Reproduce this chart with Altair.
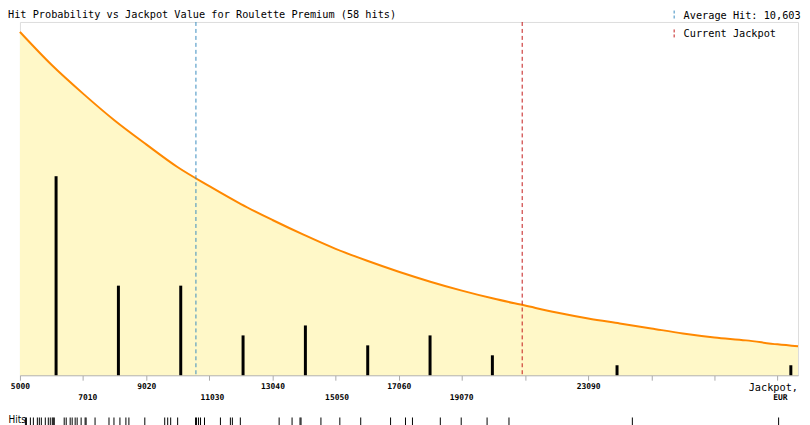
import altair as alt
import pandas as pd

# ---- data ----
curve_jackpot = [5000, 6005, 7010, 8015, 9020, 10025, 11030, 12035, 13040, 14045,
                 15050, 16055, 17060, 18065, 19070, 20075, 21080, 22085, 23090,
                 24095, 25100, 26105, 27110, 28115, 29120, 29771]
curve_level = [34.5, 31.2, 28.3, 25.6, 23.2, 20.9, 19.0, 17.2, 15.6, 14.1,
               12.7, 11.5, 10.4, 9.4, 8.5, 7.7, 7.0, 6.3, 5.7,
               5.2, 4.7, 4.2, 3.8, 3.5, 3.1, 2.9]

bar_jackpot = [6005, 8015, 10025, 12035, 14045, 16055, 18065, 20075, 24095, 29700]
bar_hits = [20, 9, 9, 4, 5, 3, 4, 2, 1, 1]

hit_values = [5167, 5198, 5315, 5396, 5535, 5607, 5680, 5787, 5890, 5953,
              6001, 6032, 6070, 6394, 6466, 6573, 6636, 6740, 6812, 6938,
              7055, 7096, 7391, 7810, 7967, 8178, 8367, 8439, 8964,
              9594, 9676, 9783, 10012, 10569, 10620, 10673, 10726, 10852,
              11375, 11689, 11743, 12004,
              13222, 13653, 13892, 13920, 14575,
              15172, 15824, 16786,
              17259, 17469, 18382, 19020,
              19861, 20543,
              24495,
              29152]

tick_values = [5000, 7010, 9020, 11030, 13040, 15050, 17060, 19070, 21080,
               23090, 25100, 27110, 29120]
upper_labels = [5000, 9020, 13040, 17060, 23090]
lower_labels = [7010, 11030, 15050, 19070]
unit_tick = 29120
unit_top = "Jackpot,"
unit_bottom = "EUR"

marker_labels = ["Average Hit: 10,603", "Current Jackpot"]
marker_values = [10603, 20990]
marker_colors = ["#3a8cc0", "#c41a1a"]

title_text = "Hit Probability vs Jackpot Value for Roulette Premium (58 hits)"

# ---- layout / style ----
PLOT_W = 782
PLOT_H = 355
X_DOMAIN = [5000, 29771]
FONT = "DejaVu Sans Mono"

curve_df = pd.DataFrame({"jackpot": curve_jackpot, "level": curve_level})
bars_df = pd.DataFrame({"jackpot": bar_jackpot, "hits": bar_hits})
markers_df = pd.DataFrame({"jackpot": marker_values, "marker": marker_labels})


def xscale():
    return alt.Scale(domain=X_DOMAIN, nice=False, zero=False)


y_scale = alt.Scale(domain=[0, PLOT_H / 10], nice=False, zero=True)

upper_list = ",".join(str(v) for v in upper_labels)
main_label_expr = (
    f"indexof([{upper_list}], datum.value) >= 0 ? '' + datum.value : "
    f"(datum.value == {unit_tick} ? '{unit_top}' : '')"
)
lower_label_expr = f"datum.value == {unit_tick} ? '{unit_bottom}' : '' + datum.value"
is_unit = f"datum.value == {unit_tick}"

axis_main = alt.Axis(
    orient="bottom", values=tick_values, labelExpr=main_label_expr,
    title=None, grid=False, domainColor="#aaaaaa", tickColor="#aaaaaa",
    tickSize=5, labelPadding=2, labelFont=FONT,
    labelFontSize={"condition": {"test": is_unit, "value": 10.3}, "value": 8},
    labelFontWeight={"condition": {"test": is_unit, "value": "normal"}, "value": "bold"},
    labelAlign={"condition": {"test": is_unit, "value": "right"}, "value": "center"},
    labelOffset={"condition": {"test": is_unit, "value": 20}, "value": 0},
    labelColor="black", labelOverlap=False, labelFlush=False, labelBound=False,
)

axis_lower = alt.Axis(
    orient="bottom", values=lower_labels + [unit_tick], labelExpr=lower_label_expr,
    title=None, grid=False, domain=False, ticks=False, tickSize=0,
    labelPadding=18, labelFont=FONT, labelFontSize=8, labelFontWeight="bold",
    labelOffset={"condition": {"test": is_unit, "value": 7}, "value": 0},
    labelColor="black", labelOverlap=False, labelFlush=False, labelBound=False,
)

axis_rug = alt.Axis(
    orient="bottom", values=hit_values, labels=False, domain=False, grid=False,
    ticks=True, tickSize=8, tickColor="black", tickWidth=1, offset=42,
    title="Hits", titleX=-12, titleY=-2, titleAlign="left", titleBaseline="top",
    titleFont="DejaVu Sans Condensed", titleFontSize=10, titleFontWeight="normal",
    titleColor="black", titleAngle=0,
)

area = alt.Chart(curve_df).mark_area(
    color="#fff8c8", opacity=1, interpolate="monotone",
    line={"color": "#ff8800", "strokeWidth": 2, "opacity": 1},
).encode(
    x=alt.X("jackpot:Q", scale=xscale(), axis=axis_main),
    y=alt.Y("level:Q", scale=y_scale, axis=None),
)

bars = alt.Chart(bars_df).mark_bar(orient="vertical", size=3, color="black").encode(
    x=alt.X("jackpot:Q", scale=xscale(), axis=axis_lower),
    y=alt.Y("hits:Q", scale=y_scale, axis=None),
)

legend = alt.Legend(
    orient="none", legendX=652, legendY=-12, title=None, direction="vertical",
    symbolType="M0,-1L0,1", symbolSize=100, symbolStrokeWidth=1,
    symbolDash=[3, 2], labelFont=FONT, labelFontSize=10.3, labelColor="black",
    labelOffset=4, rowPadding=4, padding=0, labelLimit=0,
)

rules = alt.Chart(markers_df).mark_rule(strokeDash=[4, 3], strokeWidth=1).encode(
    x=alt.X("jackpot:Q", scale=xscale(), axis=axis_rug),
    color=alt.Color("marker:N", scale=alt.Scale(domain=marker_labels, range=marker_colors),
                    legend=legend),
)

chart = alt.layer(area, bars, rules).resolve_scale(x="independent").properties(
    width=PLOT_W, height=PLOT_H, padding=0,
    title=alt.Title(title_text, anchor="start", frame="group", dx=-12, offset=-10,
                    font=FONT, fontSize=10.3, fontWeight="normal", color="black"),
).configure_view(stroke="#aaaaaa", strokeWidth=1).configure(font=FONT, background="white")

chart.save("out.html", embed_options={"renderer": "svg", "actions": False})
